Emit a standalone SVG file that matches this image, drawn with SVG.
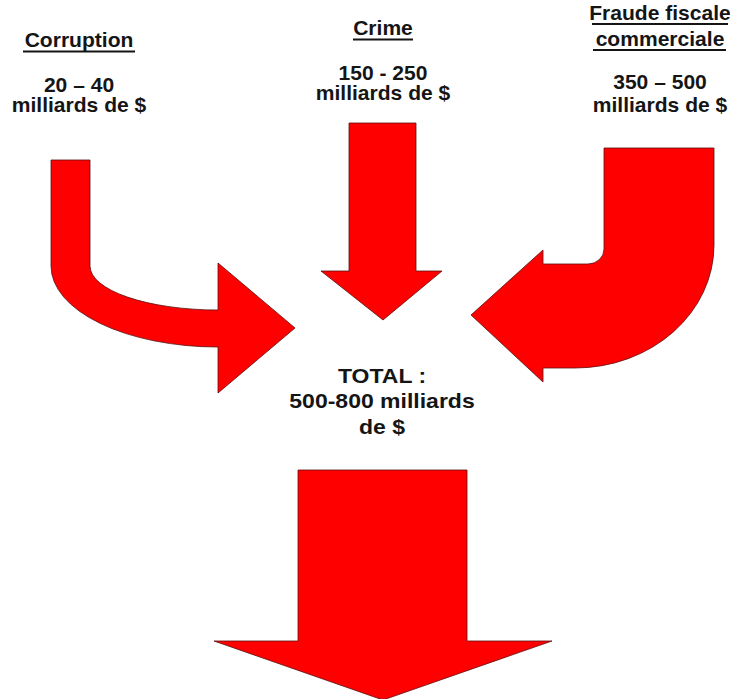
<svg xmlns="http://www.w3.org/2000/svg" width="730" height="699" viewBox="0 0 730 699">
<style>
.arrow{fill:#ff0000;stroke:#5a1010;stroke-width:0.8;stroke-linejoin:miter}
.t{font-family:"Liberation Sans",Arial,sans-serif;font-weight:bold;font-size:19.5px;fill:#151515;text-anchor:middle}
.tt{font-family:"Liberation Sans",Arial,sans-serif;font-weight:bold;font-size:20px;fill:#151515;text-anchor:middle}
.ul{stroke:#151515;stroke-width:2;fill:none}
</style>
<rect width="730" height="699" fill="#ffffff"/>
<g id="connectors">
<path id="arrow-corruption" class="arrow" d="M51,160 H90 V266 A128,44 0 0 0 218,310 V263 L295,328 L218,393 V347 A167,81 0 0 1 51,266 Z"/>
<path id="arrow-crime" class="arrow" d="M349,123 H416 V271 H442 L383,320 L321,271 H349 Z"/>
<path id="arrow-fraude" class="arrow" d="M604,148 H714 V245 A139,123 0 0 1 575,368 H543 V382 L471,315 L543,250 V264 H588 A16,15 0 0 0 604,249 Z"/>
<path id="arrow-total" class="arrow" d="M298,470 H467 V641 H552 L383,700 L214,641 H298 Z"/>
</g>
<g id="corruption">
<g transform="translate(79,0) scale(1.08,1)">
<text class="t" x="0" y="47">Corruption</text>
<text class="t" x="0" y="92">20 – 40</text>
<text class="t" x="0" y="112">milliards de $</text>
</g>
<path class="ul" d="M23,51.5 H135"/>
</g>
<g id="crime">
<g transform="translate(383,0) scale(1.08,1)">
<text class="t" x="0" y="35">Crime</text>
<text class="t" x="0" y="80">150 - 250</text>
<text class="t" x="0" y="100">milliards de $</text>
</g>
<path class="ul" d="M353,39.5 H413"/>
</g>
<g id="fraude">
<g transform="translate(660,0) scale(1.08,1)">
<text class="t" x="0" y="20">Fraude fiscale</text>
<text class="t" x="0" y="46">commerciale</text>
<text class="t" x="0" y="89">350 – 500</text>
<text class="t" x="0" y="112">milliards de $</text>
</g>
<path class="ul" d="M592,24 H728"/>
<path class="ul" d="M593,50 H726"/>
</g>
<g id="total">
<g transform="translate(382,0) scale(1.15,1)">
<text class="tt" x="0" y="383">TOTAL :</text>
<text class="tt" x="0" y="408">500-800 milliards</text>
<text class="tt" x="0" y="434">de $</text>
</g>
</g>
</svg>
